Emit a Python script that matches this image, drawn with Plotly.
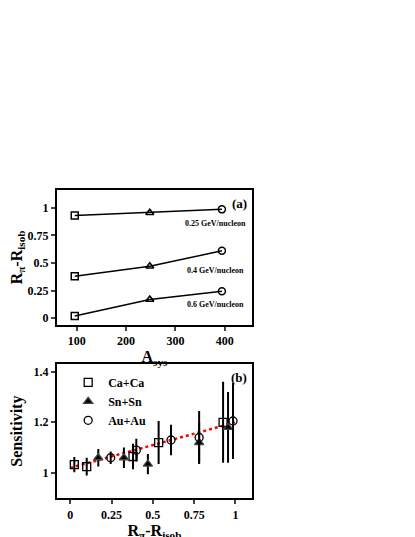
import plotly.graph_objects as go

A_sys = [96, 248, 394]
r_025 = [0.93, 0.955, 0.985]
r_04 = [0.38, 0.47, 0.61]
r_06 = [0.02, 0.17, 0.245]
energy_labels = ["0.25 GeV/nucleon", "0.4 GeV/nucleon", "0.6 GeV/nucleon"]
label_y = [0.855, 0.43, 0.12]

ca_x = [0.025, 0.10, 0.38, 0.535, 0.925]
ca_y = [1.033, 1.025, 1.065, 1.12, 1.20]
ca_e = [0.03, 0.035, 0.05, 0.085, 0.16]
sn_x = [0.17, 0.325, 0.47, 0.78, 0.955]
sn_y = [1.06, 1.06, 1.035, 1.12, 1.18]
sn_e = [0.035, 0.04, 0.04, 0.08, 0.14]
au_x = [0.245, 0.40, 0.61, 0.78, 0.985]
au_y = [1.06, 1.09, 1.13, 1.14, 1.205]
au_e = [0.025, 0.045, 0.06, 0.105, 0.15]
fit_x = [0.0, 1.0]
fit_y = [1.02, 1.20]

F = "Liberation Serif"
fig = go.Figure()
syms = ["square-open", "triangle-up-open", "circle-open"]
for ys in (r_025, r_04, r_06):
    fig.add_trace(go.Scatter(x=A_sys, y=ys, mode="lines", line=dict(color="black", width=1.5),
                             showlegend=False, xaxis="x", yaxis="y"))
    for xi, yi, s in zip(A_sys, ys, syms):
        fig.add_trace(go.Scatter(x=[xi], y=[yi], mode="markers", showlegend=False,
                                 marker=dict(symbol=s, size=7, color="black", line=dict(width=1.5)),
                                 xaxis="x", yaxis="y"))
for t, ly in zip(energy_labels, label_y):
    fig.add_annotation(x=382, y=ly, xref="x", yref="y", text=t, showarrow=False,
                       font=dict(family=F, size=8, color="black", weight="bold"))
fig.add_annotation(x=0.985, y=0.97, xref="x domain", yref="y domain", text="(a)",
                   showarrow=False, xanchor="right", yanchor="top",
                   font=dict(family=F, size=13, color="black", weight="bold"))

fig.add_trace(go.Scatter(x=fit_x, y=fit_y, mode="lines", line=dict(color="red", width=2.5, dash="dot"),
                         showlegend=False, xaxis="x2", yaxis="y2"))
for name, xs, ys, es, sym in [("Ca+Ca", ca_x, ca_y, ca_e, "square-open"),
                              ("Sn+Sn", sn_x, sn_y, sn_e, "triangle-up"),
                              ("Au+Au", au_x, au_y, au_e, "circle-open")]:
    fig.add_trace(go.Scatter(x=xs, y=ys, mode="markers", name=name,
                             error_y=dict(type="data", array=es, color="black", thickness=2, width=0),
                             marker=dict(symbol=sym, size=8, color="black", line=dict(width=1.3)),
                             xaxis="x2", yaxis="y2"))
fig.add_annotation(x=0.985, y=0.97, xref="x2 domain", yref="y2 domain", text="(b)",
                   showarrow=False, xanchor="right", yanchor="top",
                   font=dict(family=F, size=13, color="black", weight="bold"))

tf = dict(family=F, size=12, color="black", weight="bold")
ttl = dict(family=F, size=16, color="black", weight="bold")
ax = dict(showline=True, mirror=True, linecolor="black", linewidth=2, ticks="outside", ticklen=4,
          tickwidth=1.5, showgrid=False, zeroline=False, tickfont=tf)
fig.update_layout(
    width=415, height=537, margin=dict(l=0, r=0, t=0, b=0),
    plot_bgcolor="white", paper_bgcolor="white",
    xaxis=dict(ax, domain=[0.118, 0.588], range=[60, 455], tickvals=[100, 200, 300, 400], anchor="y",
               title=dict(text="A<sub>sys</sub>", font=ttl, standoff=0)),
    yaxis=dict(ax, domain=[0.410, 0.661], range=[-0.06, 1.16], tickvals=[0, 0.25, 0.5, 0.75, 1],
               ticktext=["0", "0.25", "0.5", "0.75", "1"], anchor="x",
               title=dict(text="R<sub>π</sub>-R<sub>isob</sub>", font=ttl, standoff=8)),
    xaxis2=dict(ax, domain=[0.118, 0.588], range=[-0.08, 1.10], tickvals=[0, 0.25, 0.5, 0.75, 1],
                ticktext=["0", "0.25", "0.5", "0.75", "1"], anchor="y2",
                title=dict(text="R<sub>π</sub>-R<sub>isob</sub>", font=ttl, standoff=2)),
    yaxis2=dict(ax, domain=[0.087, 0.337], range=[0.9, 1.43], tickvals=[1, 1.2, 1.4],
                ticktext=["1", "1.2", "1.4"], anchor="x2",
                title=dict(text="Sensitivity", font=ttl, standoff=8)),
    legend=dict(x=0.145, y=0.33, xanchor="left", yanchor="top", bgcolor="rgba(0,0,0,0)",
                font=dict(family=F, size=12, color="black", weight="bold"), tracegroupgap=0, itemwidth=30),
)
fig.write_html("out.html")
